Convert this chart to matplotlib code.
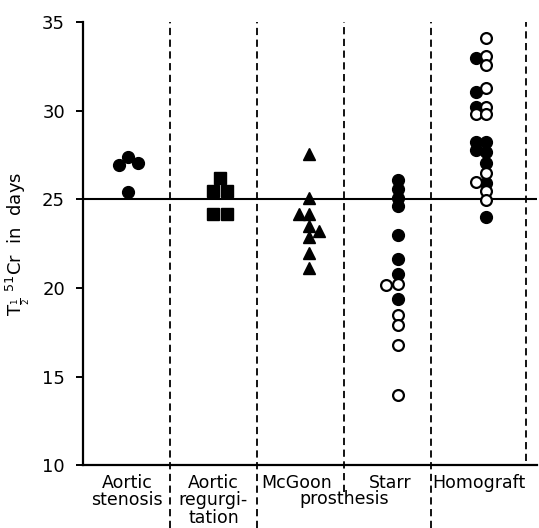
import matplotlib
matplotlib.use("Agg")
import matplotlib.pyplot as plt
import matplotlib.transforms as mtransforms

# values (T1/2 51Cr, days)
stenosis = [26.95, 27.4, 27.05, 25.4]
stenosis_dx = [-0.11, 0.0, 0.11, 0.0]

regurg = [26.2, 25.45, 25.45, 24.2, 24.2]
regurg_dx = [0.0, -0.08, 0.08, -0.08, 0.08]

mcgoon = [27.55, 25.1, 24.15, 24.15, 23.5, 23.2, 22.85, 21.95, 21.15]
mcgoon_dx = [0, 0, -0.12, 0, 0, 0.12, 0, 0, 0]

starr_filled = [26.1, 25.6, 25.1, 24.65, 23.0, 21.65, 20.8, 19.4]
starr_filled_dx = [0, 0, 0, 0, 0, 0, 0, 0]
starr_open = [20.15, 20.25, 18.5, 17.9, 16.8, 13.95]
starr_open_dx = [-0.14, 0, 0, 0, 0, 0]

homo_filled = [33.0, 31.05, 30.2, 28.25, 28.25, 27.8, 27.65, 27.05, 25.95, 24.0]
homo_filled_dx = [-0.12, -0.12, -0.12, -0.12, 0, -0.12, 0, 0, 0, 0]
homo_open = [34.1, 33.1, 32.6, 31.3, 30.2, 29.8, 29.8, 26.5, 26.0, 25.45, 24.95]
homo_open_dx = [0, 0, 0, 0, 0, -0.12, 0, 0, -0.12, 0, 0]

centers = [0.52, 1.58, 2.6, 3.62, 4.64]
boundaries = [1, 2, 3, 4]
yticks = [10, 15, 20, 25, 30, 35]

fig = plt.figure(figsize=(5.39, 5.28), dpi=100)
ax = fig.add_axes([0.154, 0.119, 0.842, 0.839])
ax.set_xlim(0, 5.22)
ax.set_ylim(10, 35)

for s in ["top", "right"]:
    ax.spines[s].set_visible(False)
ax.spines["left"].set_linewidth(1.6)
ax.spines["bottom"].set_linewidth(1.6)
ax.set_xticks([])
ax.set_yticks(yticks)
ax.set_yticklabels([str(t) for t in yticks], fontsize=13)
ax.tick_params(axis="y", length=5, width=1.4, pad=8)

ax.set_ylabel(r"T$_{\frac{1}{2}}$ $^{51}$Cr  in  days", fontsize=13, labelpad=7)

# reference line at 25 days
ax.axhline(25, color="black", lw=1.5, zorder=1)

# dashed group separators
dash = (0, (4, 2.5))
bottom_ext = [-0.142, -0.142, -0.06, -0.142]
for b, lo in zip(boundaries, bottom_ext):
    ax.axvline(b, ymin=lo, ymax=1.0, color="black", lw=1.3, ls=dash, clip_on=False)
ax.axvline(5.1, ymin=0.01, ymax=1.0, color="black", lw=1.3, ls=dash, clip_on=False)

def pts(c, dx):
    return [c + d for d in dx]

ax.plot(pts(centers[0], stenosis_dx), stenosis, "o", color="black", ms=8.5, zorder=3)
ax.plot(pts(centers[1], regurg_dx), regurg, "s", color="black", ms=8, zorder=3)
ax.plot(pts(centers[2], mcgoon_dx), mcgoon, "^", color="black", ms=8.5, zorder=3)
ax.plot(pts(centers[3], starr_filled_dx), starr_filled, "o", color="black", ms=8.5, zorder=3)
ax.plot(pts(centers[3], starr_open_dx), starr_open, "o", mfc="white", mec="black",
        mew=1.6, ms=7.8, zorder=3)
ax.plot(pts(centers[4], homo_filled_dx), homo_filled, "o", color="black", ms=8.5, zorder=3)
ax.plot(pts(centers[4], homo_open_dx), homo_open, "o", mfc="white", mec="black",
        mew=1.6, ms=7.8, zorder=4)

# category labels under the axis
tr = mtransforms.blended_transform_factory(ax.transData, ax.transAxes)
kw = dict(transform=tr, fontsize=12.5, va="top", linespacing=0.95, clip_on=False)
ax.text(0.51, -0.02, "Aortic\nstenosis", ha="center", multialignment="center", **kw)
ax.text(1.5, -0.02, "Aortic\nregurgi-\ntation", ha="center", multialignment="center", **kw)
ax.text(2.05, -0.02, "McGoon", ha="left", **kw)
ax.text(3.53, -0.02, "Starr", ha="center", **kw)
ax.text(3.0, -0.057, "prosthesis", ha="center", **kw)
ax.text(4.02, -0.02, "Homograft", ha="left", **kw)

fig.savefig("out.png", dpi=100)
